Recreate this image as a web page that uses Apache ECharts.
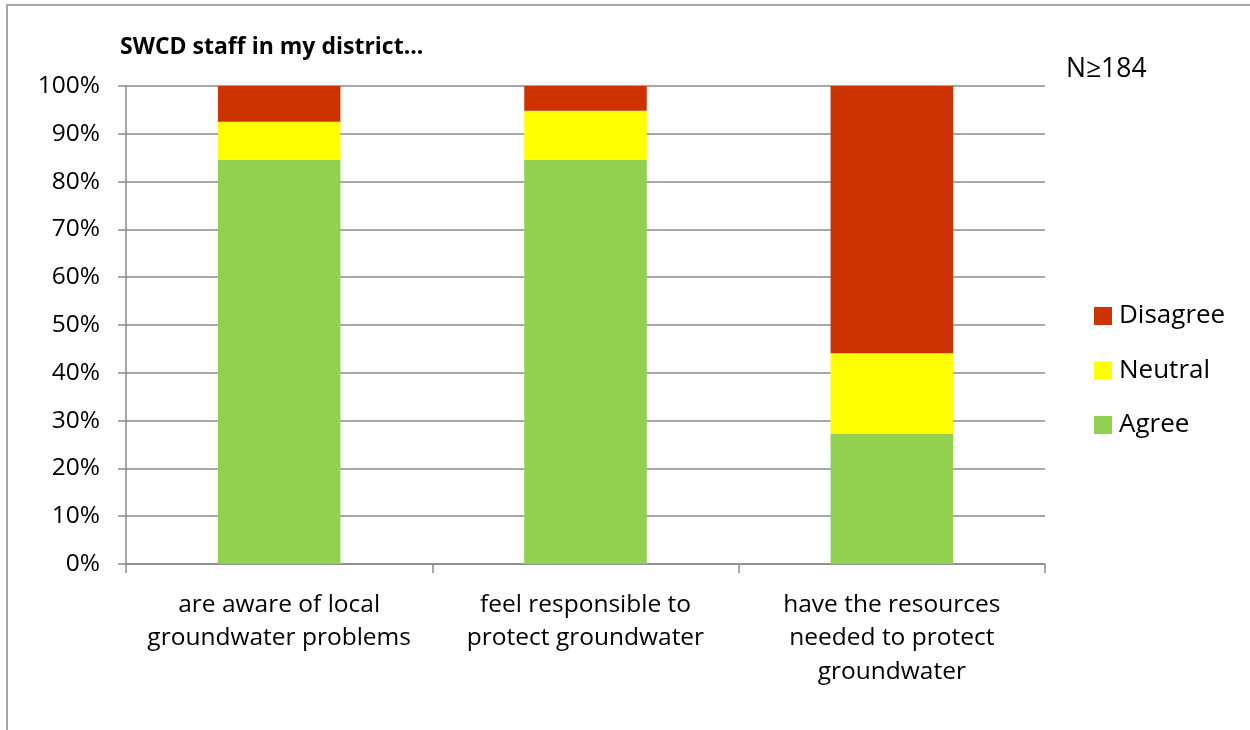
<!DOCTYPE html>
<html>
<head>
<meta charset="utf-8">
<script src="https://cdn.jsdelivr.net/npm/echarts@6/dist/echarts.min.js"></script>
<style>
  html, body { margin: 0; padding: 0; background: #fff; }
  #chart { width: 1250px; height: 730px; }
</style>
</head>
<body>
<div id="chart"></div>
<script>
// Survey responses (percent of respondents)
const categories = [
  'are aware of local\ngroundwater problems',
  'feel responsible to\nprotect groundwater',
  'have the resources\nneeded to protect\ngroundwater'
];
const agree    = [84.5, 84.5, 27.3];
const neutral  = [8.0, 10.3, 16.8];
const disagree = [7.5, 5.2, 55.9];
const yTicks = [0, 10, 20, 30, 40, 50, 60, 70, 80, 90, 100];

const FONT = '"Open Sans", "Noto Sans", sans-serif';
const chart = echarts.init(document.getElementById('chart'), null, { renderer: 'canvas' });

const barStyle = (name, data, color) => ({
  name, type: 'bar', stack: 'total', data, barWidth: '40%',
  itemStyle: { color }, emphasis: { disabled: true }
});

chart.setOption({
  animation: false,
  backgroundColor: '#ffffff',
  textStyle: { fontFamily: FONT },
  title: {
    text: 'SWCD staff in my district...',
    left: 115, top: 31,
    textStyle: { fontFamily: FONT, fontSize: 23, fontWeight: 'bold', color: '#000' }
  },
  graphic: [
    { type: 'rect', shape: { x: 7, y: 5, width: 1400, height: 900 },
      style: { fill: 'none', stroke: '#8a8a8a', lineWidth: 1.5 } },
    { type: 'text', left: 1066, top: 56,
      style: { text: 'N\u2265184', fontFamily: FONT, fontSize: 26.5, fill: '#000' } }
  ],
  legend: {
    data: ['Disagree', 'Neutral', 'Agree'],
    orient: 'vertical', left: 1089, top: 293,
    itemWidth: 18, itemHeight: 18, itemGap: 18.5,
    icon: 'rect',
    textStyle: { fontFamily: FONT, fontSize: 26, color: '#000', lineHeight: 36, padding: [0, 0, 0, 2] }
  },
  grid: { left: 126, right: 205, top: 86, bottom: 166, containLabel: false },
  xAxis: {
    type: 'category', data: categories,
    axisLine: { lineStyle: { color: '#8a8a8a', width: 1.5 } },
    axisTick: { show: true, length: 9, alignWithLabel: false, lineStyle: { color: '#8a8a8a', width: 1.5 } },
    axisLabel: { interval: 0, fontFamily: FONT, fontSize: 24.5, color: '#000', lineHeight: 33.5, margin: 24 }
  },
  yAxis: {
    type: 'value', min: 0, max: 100, interval: 10,
    axisLine: { show: true, lineStyle: { color: '#8a8a8a', width: 1.5 } },
    axisTick: { show: true, length: 8, lineStyle: { color: '#8a8a8a', width: 1.5 } },
    splitLine: { lineStyle: { color: '#8a8a8a', width: 1.5 } },
    axisLabel: {
      fontFamily: FONT, fontSize: 24.5, color: '#000', margin: 26,
      formatter: v => (yTicks.includes(v) ? v + '%' : '')
    }
  },
  series: [
    barStyle('Agree', agree, '#92d050'),
    barStyle('Neutral', neutral, '#ffff00'),
    barStyle('Disagree', disagree, '#cc3300')
  ]
});
</script>
</body>
</html>
